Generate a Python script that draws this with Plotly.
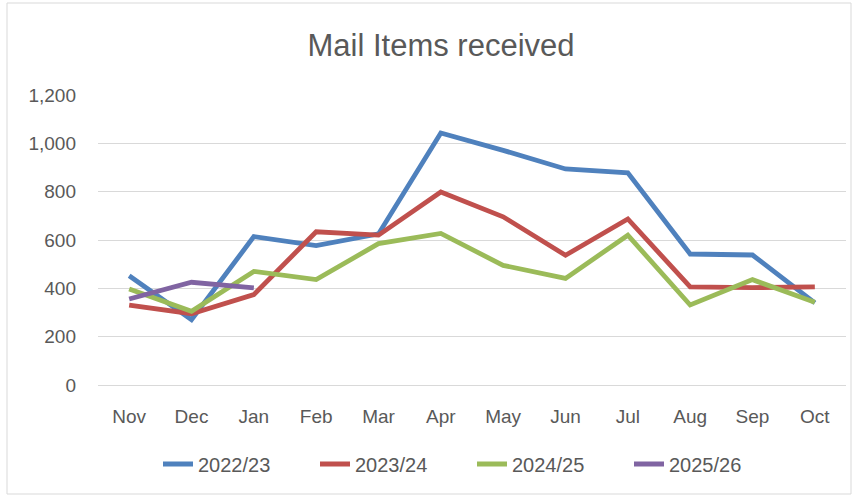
import plotly.graph_objects as go

months = ["Nov", "Dec", "Jan", "Feb", "Mar", "Apr", "May", "Jun", "Jul", "Aug", "Sep", "Oct"]
y2022_23 = [452, 270, 614, 577, 625, 1043, 971, 894, 878, 542, 538, 340]
y2023_24 = [331, 295, 374, 634, 620, 799, 696, 537, 687, 406, 403, 406]
y2024_25 = [397, 305, 470, 436, 585, 627, 495, 441, 620, 331, 436, 342]
y2025_26 = [356, 425, 402]

series = [
    ("2022/23", y2022_23, "#4F81BD"),
    ("2023/24", y2023_24, "#C0504D"),
    ("2024/25", y2024_25, "#9BBB59"),
    ("2025/26", y2025_26, "#8064A2"),
]

font_family = "Liberation Sans, Arial, sans-serif"
text_color = "#595959"

fig = go.Figure()
for name, vals, color in series:
    fig.add_trace(go.Scatter(
        x=months[:len(vals)], y=vals, name=name, mode="lines",
        line=dict(color=color, width=4.8),
    ))

L, R, T, B = 98, 6, 95, 111
pw = 852 - L - R
ph = 496 - T - B

def px_x(p):
    return (p - L) / pw

def px_y(p):
    return (496 - B - p) / ph

fig.update_layout(
    width=852, height=496,
    margin=dict(l=L, r=R, t=T, b=B, autoexpand=False),
    paper_bgcolor="white", plot_bgcolor="white",
    font=dict(family=font_family, color=text_color, size=19),
    title=dict(text="Mail Items received", x=441 / 852, xanchor="center",
               y=1 - 45 / 496, yanchor="middle",
               font=dict(size=31, color=text_color, family=font_family)),
    showlegend=True,
    legend=dict(orientation="h", x=px_x(158), xanchor="left", y=px_y(464), yanchor="middle",
                font=dict(size=20, color=text_color), entrywidth=112, traceorder="normal"),
    shapes=[dict(type="rect", xref="paper", yref="paper",
                 x0=px_x(7), x1=px_x(851), y0=px_y(494), y1=px_y(3),
                 line=dict(color="#D9D9D9", width=1), fillcolor="rgba(0,0,0,0)", layer="below")],
)
fig.update_xaxes(
    type="category", categoryorder="array", categoryarray=months,
    range=[-0.5, 11.5], showgrid=False, showline=True, linecolor="#D9D9D9", linewidth=1,
    ticks="", ticklabelstandoff=14, tickfont=dict(size=19, color=text_color),
    zeroline=False,
)
fig.update_yaxes(
    range=[0, 1200], dtick=200, tickformat=",", showgrid=True, gridcolor="#D9D9D9",
    gridwidth=1, zeroline=False, showline=False, ticks="", ticklabelstandoff=21,
    tickfont=dict(size=19, color=text_color),
)

fig.write_html("out.html", config={"displayModeBar": False},
               post_script="document.body.style.margin='0';")
